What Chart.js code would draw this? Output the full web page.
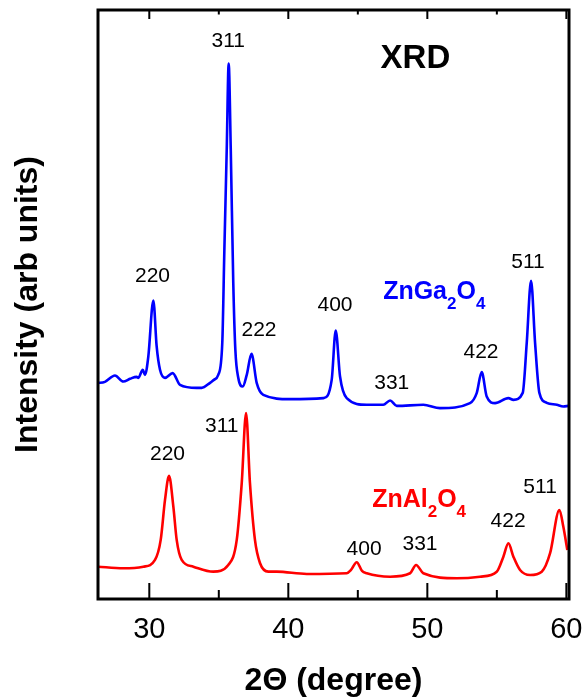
<!DOCTYPE html>
<html lang="en">
<head>
<title>XRD</title>
<meta charset="UTF-8">
<script src="https://cdn.jsdelivr.net/npm/chart.js"></script>
<style>
body {margin: 0; background: #fff}
</style>
</head>
<body>
<canvas id="xrdChart" width="583" height="699"></canvas>
<script>
// ZnGa2O4 trace (blue)
const gaTheta = [26.26, 26.81, 27.53, 28.13, 28.61, 29.09, 29.21, 29.53, 29.69, 29.93, 30.29, 30.53, 30.77, 31.13, 31.68, 32.21, 33.41, 33.77, 34.37, 34.65, 34.96, 35.25, 35.40, 35.57, 35.71, 35.86, 36.04, 36.19, 36.40, 36.72, 37.01, 37.35, 37.73, 38.20, 40.12, 42.52, 43.12, 43.41, 43.72, 44.20, 45.64, 46.83, 47.32, 47.80, 49.71, 50.91, 53.07, 53.55, 53.91, 54.27, 54.87, 55.83, 56.19, 56.86, 57.15, 57.46, 57.75, 58.06, 58.59, 59.31, 59.78, 60.14];
const gaIntensity = [36.65, 36.87, 37.94, 36.92, 37.38, 37.72, 37.55, 38.91, 38.06, 41.17, 50.69, 42.87, 38.91, 37.55, 38.35, 36.36, 35.85, 35.85, 36.70, 37.21, 38.06, 43.50, 59.30, 76.30, 90.91, 76.30, 53.70, 42.31, 37.55, 36.07, 38.06, 41.63, 36.65, 34.66, 33.93, 34.10, 37.21, 45.59, 37.77, 34.10, 32.97, 32.97, 33.70, 32.79, 32.97, 32.40, 33.25, 34.95, 38.52, 34.38, 33.25, 34.10, 33.81, 35.00, 43.50, 54.04, 43.50, 35.00, 33.31, 32.97, 32.68, 32.79];

// ZnAl2O4 trace (red)
const alTheta = [26.26, 28.13, 29.57, 30.41, 30.82, 31.13, 31.42, 31.73, 31.97, 32.33, 33.17, 34.60, 35.68, 36.29, 36.65, 36.96, 37.24, 37.60, 37.96, 38.56, 39.17, 41.32, 44.20, 44.51, 44.92, 45.30, 45.64, 47.32, 48.76, 49.19, 49.71, 52.12, 53.79, 54.99, 55.47, 55.83, 56.19, 56.67, 57.39, 58.23, 58.83, 59.50, 59.78, 60.07];
const alIntensity = [5.49, 5.22, 5.49, 6.63, 10.03, 16.82, 20.90, 15.68, 10.03, 6.63, 5.49, 4.64, 5.78, 10.03, 19.71, 31.55, 19.71, 10.03, 6.12, 4.64, 4.64, 4.25, 4.37, 4.93, 6.24, 4.76, 4.37, 3.79, 4.37, 5.78, 4.37, 3.52, 3.79, 4.64, 7.19, 9.46, 7.19, 4.93, 4.08, 4.64, 7.77, 15.12, 12.29, 8.33];

const xTicks = [30, 35, 40, 45, 50, 55, 60];

// Miller index labels
const gaPeakText = ['311', '220', '222', '400', '331', '422', '511'];
const gaPeakX = [35.68, 30.23, 37.89, 43.36, 47.44, 53.86, 57.24];
const gaPeakY = [94.65, 54.88, 45.71, 49.96, 36.70, 41.97, 57.26];
const alPeakText = ['311', '220', '400', '331', '422', '511'];
const alPeakX = [35.21, 31.31, 45.45, 49.47, 55.81, 58.11];
const alPeakY = [29.40, 24.64, 8.50, 9.35, 13.25, 19.03];

const FONT = '"Liberation Sans", Arial, sans-serif';

function toPoints(xs, ys) {
  return xs.map((v, i) => ({x: v, y: ys[i]}));
}

// draws a formula like ZnGa2O4 with subscript digits
function drawFormula(ctx, text, x, y, color) {
  ctx.fillStyle = color;
  ctx.textBaseline = 'alphabetic';
  ctx.textAlign = 'left';
  for (const ch of text) {
    const sub = /[0-9]/.test(ch);
    ctx.font = 'bold ' + (sub ? 17 : 25) + 'px ' + FONT;
    ctx.fillText(ch, x, sub ? y + 10 : y);
    x += ctx.measureText(ch).width;
  }
}

const framePlugin = {
  id: 'frame',
  afterDatasetsDraw(chart) {
    const {ctx, chartArea: a, scales: {x, y}} = chart;
    ctx.save();
    ctx.strokeStyle = '#000';
    ctx.lineWidth = 2;
    x.ticks.forEach(t => {
      const px = x.getPixelForValue(t.value);
      const major = t.value % 10 === 0;
      ctx.beginPath();
      ctx.moveTo(px, a.bottom);
      ctx.lineTo(px, a.bottom - (major ? 16 : 9));
      ctx.moveTo(px, a.top);
      ctx.lineTo(px, a.top + (major ? 9 : 4.5));
      ctx.stroke();
    });
    ctx.lineWidth = 3;
    ctx.strokeRect(a.left, a.top, a.width, a.height);

    ctx.fillStyle = '#000';
    ctx.textAlign = 'center';
    ctx.textBaseline = 'middle';
    ctx.font = '21px ' + FONT;
    gaPeakText.forEach((s, i) => ctx.fillText(s, x.getPixelForValue(gaPeakX[i]), y.getPixelForValue(gaPeakY[i])));
    alPeakText.forEach((s, i) => ctx.fillText(s, x.getPixelForValue(alPeakX[i]), y.getPixelForValue(alPeakY[i])));

    ctx.font = 'bold 33px ' + FONT;
    ctx.fillText('XRD', x.getPixelForValue(49.14), y.getPixelForValue(91.76));

    drawFormula(ctx, 'ZnGa2O4', x.getPixelForValue(46.82), y.getPixelForValue(50.9), '#0000ff');
    drawFormula(ctx, 'ZnAl2O4', x.getPixelForValue(46.03), y.getPixelForValue(15.63), '#ff0000');
    ctx.restore();
  }
};

new Chart(document.getElementById('xrdChart'), {
  type: 'line',
  data: {
    datasets: [{
      label: 'ZnGa2O4',
      data: toPoints(gaTheta, gaIntensity),
      borderColor: '#0000ff',
      borderWidth: 2.6,
      pointRadius: 0,
      cubicInterpolationMode: 'monotone'
    }, {
      label: 'ZnAl2O4',
      data: toPoints(alTheta, alIntensity),
      borderColor: '#ff0000',
      borderWidth: 2.6,
      pointRadius: 0,
      cubicInterpolationMode: 'monotone'
    }]
  },
  options: {
    responsive: false,
    animation: false,
    layout: {padding: {top: 10, right: 14, left: 0, bottom: 0}},
    plugins: {legend: {display: false}, tooltip: {enabled: false}},
    scales: {
      x: {
        type: 'linear',
        min: 26.31,
        max: 60.19,
        afterBuildTicks: s => { s.ticks = xTicks.map(v => ({value: v})); },
        afterFit: s => { s.height = 100; s.paddingLeft = 0; s.paddingRight = 0; },
        grid: {display: false, drawTicks: false},
        border: {display: false},
        ticks: {
          padding: 14,
          color: '#000',
          font: {family: FONT, size: 29},
          callback: v => (v % 10 === 0 ? v : '')
        },
        title: {
          display: true,
          text: '2Θ (degree)',
          color: '#000',
          font: {family: FONT, size: 32, weight: 'bold', lineHeight: 1.1},
          padding: {top: 0, bottom: 0}
        }
      },
      y: {
        min: 0,
        max: 100,
        afterFit: s => { s.width = 98; s.paddingTop = 0; s.paddingBottom = 0; },
        grid: {display: false, drawTicks: false},
        border: {display: false},
        ticks: {display: false},
        title: {
          display: true,
          text: 'Intensity (arb units)',
          color: '#000',
          font: {family: FONT, size: 32, weight: 'bold', lineHeight: 1.1},
          padding: {top: 11, bottom: 0}
        }
      }
    }
  },
  plugins: [framePlugin]
});
</script>
</body>
</html>
